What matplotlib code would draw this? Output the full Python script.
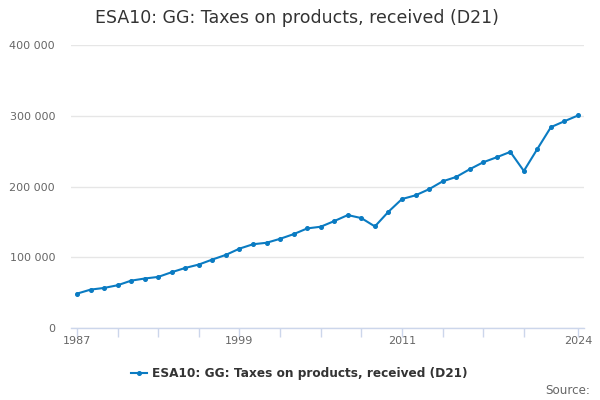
import matplotlib
matplotlib.use("Agg")
import matplotlib.pyplot as plt
from matplotlib.ticker import FuncFormatter, FixedLocator

years = list(range(1987, 2025))
values = [48600, 54300, 56700, 60500, 67000, 70000, 72300, 79000, 85000, 89800,
          96900, 103500, 112300, 118500, 120600, 126200, 132800, 140900, 143300, 151300,
          159800, 155500, 143700, 164500, 182500, 187700, 196400, 207500, 213700, 224600,
          234500, 241600, 249200, 222200, 253400, 284200, 292600, 300700]
title = "ESA10: GG: Taxes on products, received (D21)"
series_name = "ESA10: GG: Taxes on products, received (D21)"
tick_years = [1987, 1990, 1993, 1996, 1999, 2002, 2005, 2008, 2011, 2014, 2017, 2020, 2024]
label_years = [1987, 1999, 2011, 2024]
yticks = [0, 100000, 200000, 300000, 400000]

plt.rcParams['font.family'] = ['DejaVu Sans']
fig = plt.figure(figsize=(6, 4), dpi=100)
ax = fig.add_axes([71/600, 72/400, 513/600, (328-45.3)/400])

color = '#0a7bc2'
line, = ax.plot(years, values, color=color, lw=1.5, marker='o', markersize=2.6, label=series_name, zorder=3)

ax.set_xlim(1987 - 6/13.54, 2024 + 6/13.54)
ax.set_ylim(0, 400000)
ax.set_yticks(yticks)
ax.yaxis.set_major_formatter(FuncFormatter(lambda v, p: f"{int(v):,}".replace(",", " ")))
ax.grid(axis='y', color='#e6e6e6', lw=1)
ax.set_axisbelow(True)

ax.xaxis.set_major_locator(FixedLocator(tick_years))
ax.set_xticklabels([str(y) if y in label_years else "" for y in tick_years])
ax.tick_params(axis='x', length=6.5, color='#ccd6eb', width=1, labelsize=8, labelcolor='#666666', pad=-1)
ax.tick_params(axis='y', length=0, labelsize=8, labelcolor='#666666', pad=11.5)

for s in ['top', 'right', 'left']:
    ax.spines[s].set_visible(False)
ax.spines['bottom'].set_color('#ccd6eb')
ax.spines['bottom'].set_linewidth(1)

fig.text(297/600, 1 - 18/400, title, ha='center', va='center', fontsize=12.5, color='#333333')

leg = fig.legend(handles=[line], loc='center', bbox_to_anchor=(299/600, 1 - 374/400), frameon=False,
                 prop={'weight': 'bold', 'size': 8.7}, handlelength=1.3, handletextpad=0.4)
for t in leg.get_texts():
    t.set_color('#333333')

fig.text(590/600, 1 - 390/400, "Source:", ha='right', va='center', fontsize=8.6, color='#666666')

fig.savefig("out.png", dpi=100)
